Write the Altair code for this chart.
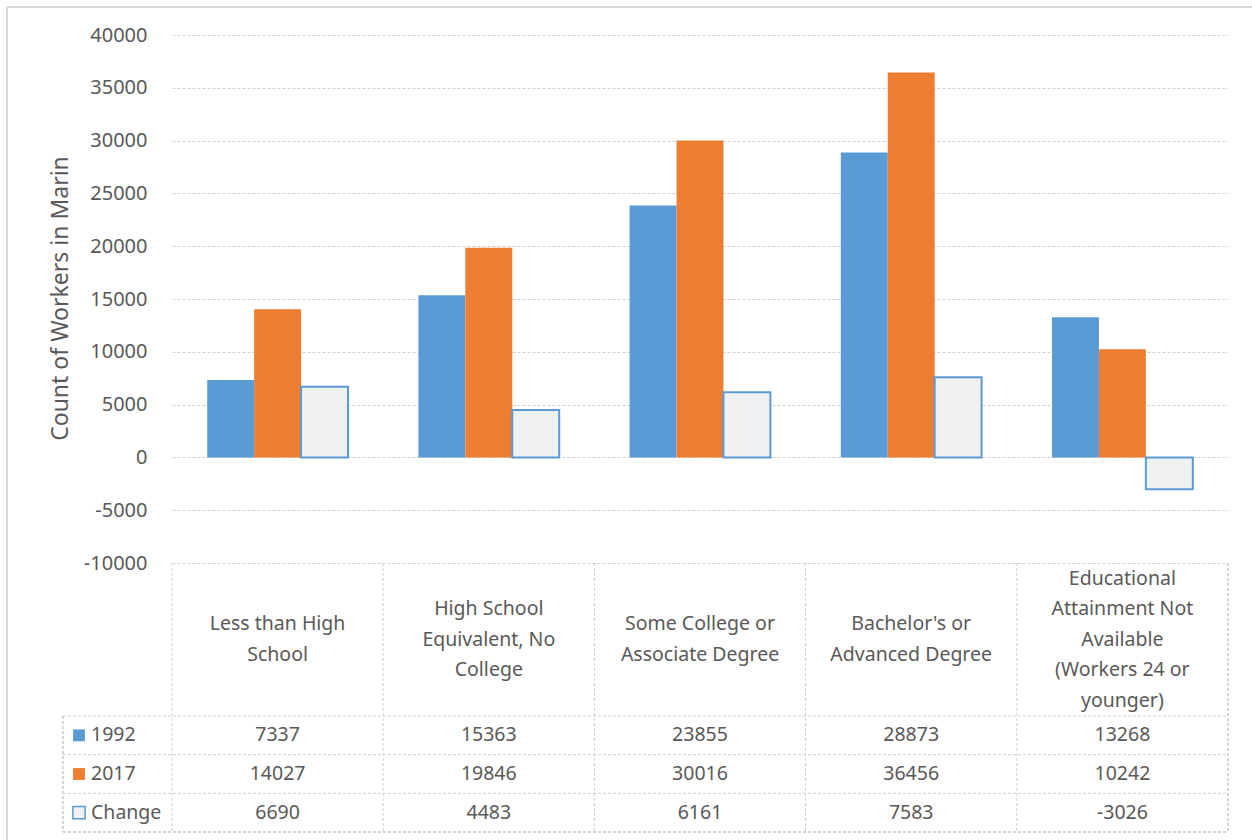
import altair as alt
import pandas as pd

# Workers in Marin by educational attainment
categories = [
    "Less than High School",
    "High School Equivalent, No College",
    "Some College or Associate Degree",
    "Bachelor's or Advanced Degree",
    "Educational Attainment Not Available (Workers 24 or younger)",
]
header_labels = [
    "Less than High\nSchool",
    "High School\nEquivalent, No\nCollege",
    "Some College or\nAssociate Degree",
    "Bachelor's or\nAdvanced Degree",
    "Educational\nAttainment Not\nAvailable\n(Workers 24 or\nyounger)",
]
series = ["1992", "2017", "Change"]
values_1992 = [7337, 15363, 23855, 28873, 13268]
values_2017 = [14027, 19846, 30016, 36456, 10242]
values_change = [6690, 4483, 6161, 7583, -3026]

y_ticks = [-10000, -5000, 0, 5000, 10000, 15000, 20000, 25000, 30000, 35000, 40000]

FONT = "Noto Sans"
TEXT = "#595959"
GRID = "#cfcfcf"
BLUE = "#5B9BD5"
ORANGE = "#ED7D31"
CHANGE_FILL = "#EFF0F0"
FS = 19.5
LINE_H = 30.5

rows = []
for s, vals in zip(series, [values_1992, values_2017, values_change]):
    for c, v in zip(categories, vals):
        rows.append({"category": c, "series": s, "value": v})
df = pd.DataFrame(rows)
df_head = pd.DataFrame({
    "category": categories,
    "label": header_labels,
    "row": "header",
    "lines": [lab.count("\n") + 1 for lab in header_labels],
})
df_series = pd.DataFrame({"series": series})

W, H = 1056, 797
PLOT_BOTTOM = 528          # pixel row of the -10000 line, top of the data table
HEAD_BOTTOM = 681          # bottom of the category header row
LEG_LEFT = -109            # left edge of the legend column

cat_scale = alt.Scale(domain=categories, paddingInner=0, paddingOuter=0)
x_enc = alt.X("category:N", sort=categories, scale=cat_scale, axis=None)
x_off = alt.XOffset("series:N", sort=series,
                    scale=alt.Scale(domain=series, paddingInner=0, paddingOuter=0.75))
y_val = alt.Y("value:Q",
              scale=alt.Scale(domain=[-10000, 40000], range=[PLOT_BOTTOM, 0], nice=False, zero=False),
              axis=alt.Axis(values=y_ticks, labelExpr="'' + datum.value", ticks=False, domain=False,
                            grid=True, gridDash=[3, 2], gridColor=GRID, gridWidth=1,
                            labelFont=FONT, labelFontSize=20, labelColor=TEXT, labelPadding=25,
                            title="Count of Workers in Marin", titleFont=FONT, titleFontSize=23,
                            titleFontWeight="normal", titleColor=TEXT, titleAngle=-90,
                            titleX=-112, titleY=263, titleAlign="center", titleBaseline="middle"))

# 1992 and 2017 bars, solid fills
solid_bars = alt.Chart(df).transform_filter(
    alt.datum.series != "Change"
).mark_bar().encode(
    x=x_enc, xOffset=x_off, y=y_val,
    fill=alt.Fill("series:N", scale=alt.Scale(domain=series, range=[BLUE, ORANGE, CHANGE_FILL]), legend=None),
)
# change bars, pale fill with a blue outline
change_bars = alt.Chart(df).transform_filter(
    alt.datum.series == "Change"
).mark_bar(fill=CHANGE_FILL, stroke=BLUE, strokeWidth=2).encode(
    x=x_enc, xOffset=x_off, y=y_val,
)
bars = alt.layer(solid_bars, change_bars)

head_y = alt.Y("row:N", scale=alt.Scale(domain=["header"], range=[PLOT_BOTTOM, HEAD_BOTTOM],
                                        paddingInner=0, paddingOuter=0), axis=None)
# category names, vertically centred per number of wrapped lines
header_layers = []
for n in sorted(set(df_head["lines"])):
    header_layers.append(
        alt.Chart(df_head).transform_filter(alt.datum.lines == n).mark_text(
            font=FONT, fontSize=FS, color=TEXT, lineBreak="\n", lineHeight=LINE_H,
            align="center", baseline="middle", dy=-(n - 1) * LINE_H / 2
        ).encode(x=x_enc, y=head_y, text="label:N")
    )

row_scale = alt.Scale(domain=series, range=[HEAD_BOTTOM, H], paddingInner=0, paddingOuter=0)
row_y = alt.Y("series:N", sort=series, scale=row_scale, axis=None)

cells = alt.Chart(df).transform_calculate(
    label="'' + datum.value"
).mark_text(
    font=FONT, fontSize=FS, color=TEXT, align="center", baseline="middle"
).encode(x=x_enc, y=row_y, text="label:N")

legend_text = alt.Chart(df_series).mark_text(
    font=FONT, fontSize=FS, color=TEXT, align="left", baseline="middle"
).encode(x=alt.value(-81), y=row_y, text="series:N")

legend_solid = alt.Chart(df_series).transform_filter(
    alt.datum.series != "Change"
).mark_point(shape="square", filled=True, opacity=1, size=140).encode(
    x=alt.value(-93), y=row_y,
    fill=alt.Fill("series:N", scale=alt.Scale(domain=series, range=[BLUE, ORANGE, CHANGE_FILL]), legend=None),
)
legend_change = alt.Chart(df_series).transform_filter(
    alt.datum.series == "Change"
).mark_point(shape="square", filled=True, opacity=1, size=150, fill=CHANGE_FILL,
             stroke=BLUE, strokeWidth=1.5).encode(
    x=alt.value(-93), y=row_y,
)

dash = [3, 2]

# column separators of the data table
col_lines = alt.Chart(df_head).mark_rule(color=GRID, strokeDash=dash, strokeWidth=1).encode(
    x=alt.X("category:N", sort=categories, bandPosition=0, scale=cat_scale, axis=None),
    y=alt.value(PLOT_BOTTOM), y2=alt.value(H),
)
right_line = alt.Chart(df_series).mark_rule(color=GRID, strokeDash=dash, strokeWidth=1).encode(
    x=alt.value(W), y=alt.value(PLOT_BOTTOM), y2=alt.value(H),
)
legend_left = alt.Chart(df_series).mark_rule(color=GRID, strokeDash=dash, strokeWidth=1).encode(
    x=alt.value(LEG_LEFT), y=alt.value(HEAD_BOTTOM), y2=alt.value(H),
)
# row separators of the data table
row_lines = alt.Chart(df_series).mark_rule(color=GRID, strokeDash=dash, strokeWidth=1).encode(
    y=alt.Y("series:N", sort=series, bandPosition=0, scale=row_scale, axis=None),
    x=alt.value(LEG_LEFT), x2=alt.value(W),
)
bottom_line = alt.Chart(df_series).mark_rule(color=GRID, strokeDash=dash, strokeWidth=1).encode(
    y=alt.value(H), x=alt.value(LEG_LEFT), x2=alt.value(W),
)

# outer frame of the chart area
frame_top = alt.Chart(df_series).mark_rule(color="#d9d9d9", strokeWidth=1.5).encode(
    y=alt.value(-28), x=alt.value(-165), x2=alt.value(W + 40),
)
frame_left = alt.Chart(df_series).mark_rule(color="#d9d9d9", strokeWidth=1.5).encode(
    x=alt.value(-165), y=alt.value(-28), y2=alt.value(H + 20),
)

chart = alt.layer(
    frame_top, frame_left,
    bars, col_lines, right_line, legend_left, row_lines, bottom_line,
    *header_layers, cells, legend_solid, legend_change, legend_text,
).resolve_scale(
    y="independent"
).properties(
    width=W, height=H,
    padding={"left": 172, "top": 35, "right": 24, "bottom": 8},
    autosize=alt.AutoSizeParams(type="none"),
    background="white",
).configure_view(strokeWidth=0)

chart.save("out.html", embed_options={"renderer": "svg", "actions": False})
